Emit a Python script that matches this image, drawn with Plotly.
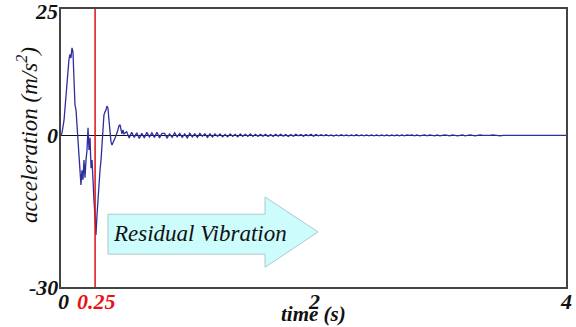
import numpy as np
import plotly.graph_objects as go

# main transient (time s, acceleration m/s^2)
t_main = [0, 0.008, 0.024, 0.04, 0.055, 0.063, 0.071, 0.079, 0.087, 0.095, 0.103, 0.111,
          0.119, 0.127, 0.135, 0.143, 0.150, 0.158, 0.166, 0.174, 0.182, 0.190, 0.198,
          0.206, 0.214, 0.222, 0.230, 0.238, 0.246, 0.253, 0.261, 0.269, 0.277, 0.285,
          0.293, 0.301, 0.309, 0.317, 0.325, 0.333, 0.340, 0.348, 0.356, 0.364, 0.372,
          0.380, 0.388, 0.396, 0.404, 0.412, 0.428, 0.444, 0.451, 0.459, 0.467, 0.475,
          0.483, 0.491, 0.499]
a_main = [0, 0.5, 3, 8, 13, 15, 16, 15.3, 17.3, 16.5, 11, 6,
          5, 2, -0.9, -3.9, -5.9, -9.8, -6.9, -8.8, -4.9, -8.4, -4.9,
          -2.9, 1.5, -2.9, -0.5, -6.5, -4.9, -9.8, -12.8, -15.8, -19.7, -15.8,
          -12.4, -9.8, -6.9, -4.9, -0.9, 2.5, 4.0, 4.6, 5.0, 5.8, 5.4,
          3.0, 0.7, -1.3, -1.9, -1.5, -0.5, 0.5, 1.5, 1.9, 2.1, 1.1,
          0.3, 1.1, 0.3]

# residual vibration, sampled every 0.02 s from 0.52 s
res_start = 0.52
res_step = 0.02
a_res = [0.7, -0.5, 0.6, -0.4, 0.5, -0.6, 0.4, -0.5, 0.6, -0.3, 0.5, -0.4, 0.6, -0.5, 0.4,
         0.4, -0.5, 0.3, -0.4, 0.5, -0.3, 0.4, -0.4, 0.3, -0.5, 0.4, -0.3, 0.3, -0.4, 0.4,
         -0.2, 0.3, -0.4, 0.3, -0.3,
         0.3, -0.2, 0.3, -0.3, 0.2, -0.3, 0.3, -0.2, 0.2, -0.3, 0.3, -0.2, 0.2, -0.2, 0.3,
         -0.2, 0.2, -0.2, 0.2, -0.15,
         0.2, -0.2, 0.15, -0.2, 0.2, -0.15, 0.2, -0.15, 0.15, -0.2, 0.15, -0.15, 0.2, -0.1, 0.15,
         -0.15, 0.15, -0.1, 0.2, -0.15,
         0.15, -0.1, 0.15, -0.1, 0.15, -0.1, 0.1, -0.15, 0.1, -0.1, 0.15, -0.1, 0.1, -0.1, 0.1,
         -0.1, 0.15, -0.1, 0.1, -0.1, 0.1, -0.1, 0.1, -0.1, 0.1, -0.1, 0.1, -0.1, 0.1, -0.1,
         0.1, -0.1, 0.1, -0.1, 0.1, -0.1, 0.1, 0, 0.1, -0.1, 0.1, -0.1, 0, 0.1, -0.1,
         0.1, 0, -0.1, 0.1, -0.1, 0, 0.1, 0, -0.1, 0.1, 0, -0.1, 0, 0.1, -0.1,
         0, 0.1, 0, -0.1, 0, 0.1, 0, 0, -0.1, 0, 0.1, 0, 0, -0.1, 0,
         0, 0.1, 0, 0, 0, 0, 0, 0, 0, 0, 0, 0, 0, 0, 0]
t_res = [round(res_start + i * res_step, 3) for i in range(len(a_res))]
t_all = t_main + t_res + [4.0]
a_all = a_main + a_res + [0]

x_ticks = [0, 2, 4]
x_ticktext = ["0", "2", "4"]
y_ticks = [25, 0, -30]
y_ticktext = ["25", "0", "-30"]
cut_time = 0.27
cut_label = "0.25"

serif = "Liberation Serif, Times New Roman, serif"

fig = go.Figure()
fig.add_trace(go.Scatter(x=t_all, y=a_all, mode="lines",
                         line=dict(color="#2e2e9e", width=1.3), hoverinfo="skip"))

# arrow
arrow = [(0.372, -15.6), (1.616, -15.6), (1.616, -12.2), (2.036, -19.1),
         (1.616, -26.1), (1.616, -23.5), (0.372, -23.5)]
path = "M " + " L ".join(f"{x},{y}" for x, y in arrow) + " Z"
fig.add_shape(type="path", path=path, xref="x", yref="y",
              fillcolor="#ccfcfc", line=dict(color="#b0c8c8", width=1), layer="above")
fig.add_annotation(x=1.1, y=-19.4, xref="x", yref="y", text="<i>Residual Vibration</i>",
                   showarrow=False, font=dict(family=serif, size=23, color="#111"),
                   xanchor="center", yanchor="middle")

# red cut line
fig.add_shape(type="line", x0=cut_time, x1=cut_time, y0=0, y1=1, xref="x", yref="paper",
              line=dict(color="#e01010", width=1.5))
fig.add_annotation(x=0.285, y=0, xref="x", yref="paper", text=f"<b><i>{cut_label}</i></b>",
                   showarrow=False, yanchor="middle", xanchor="center", yshift=-14,
                   font=dict(family=serif, size=22, color="#ee1111"))

# x tick labels
for xv, tx in zip(x_ticks, x_ticktext):
    fig.add_annotation(x=xv, y=0, xref="x", yref="paper", text=f"<b><i>{tx}</i></b>",
                       showarrow=False, yanchor="middle", xanchor="center", yshift=-14,
                       xshift=2 if xv == 0 else 0,
                       font=dict(family=serif, size=22, color="#111"))
# y tick labels
for yv, tx in zip(y_ticks, y_ticktext):
    fig.add_annotation(x=0, y=yv, xref="paper", yref="y", text=f"<b><i>{tx}</i></b>",
                       showarrow=False, yanchor="middle", xanchor="right", xshift=-1,
                       yshift=-2 if yv == 25 else 0,
                       font=dict(family=serif, size=22, color="#111"))

fig.add_annotation(x=0.5, y=0, xref="paper", yref="paper", text="<b><i>time (s)</i></b>",
                   showarrow=False, yanchor="middle", xanchor="center", yshift=-27,
                   font=dict(family=serif, size=21, color="#111"))
fig.add_annotation(x=-0.065, y=0.547, xref="paper", yref="paper",
                   text="<i>acceleration (m/s<sup>2</sup>)</i>", textangle=-90,
                   showarrow=False, xanchor="center", yanchor="middle",
                   font=dict(family=serif, size=23, color="#111"))

fig.update_layout(
    width=576, height=327, margin=dict(l=61, r=10, t=9, b=40, autoexpand=False),
    paper_bgcolor="white", plot_bgcolor="white", showlegend=False,
    xaxis=dict(range=[0, 4], showticklabels=False,
               showgrid=False, zeroline=False, showline=True, mirror=True, automargin=False,
               linecolor="#444", linewidth=2, ticks=""),
    yaxis=dict(range=[-30, 25], showticklabels=False,
               showgrid=False, zeroline=True, zerolinecolor="#111", zerolinewidth=1,
               showline=True, mirror=True, linecolor="#444", linewidth=2, ticks="",
               automargin=False),
)

fig.write_html("out.html")
